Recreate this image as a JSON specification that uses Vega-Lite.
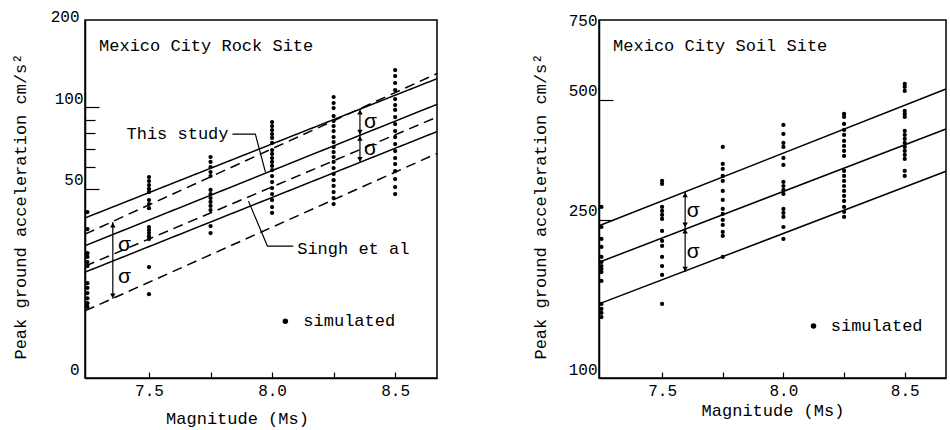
{
  "$schema": "https://vega.github.io/schema/vega-lite/v6.json",
  "background": "white",
  "padding": {"left": 10, "top": 7, "right": 5, "bottom": 2},
  "spacing": 89,
  "config": {
    "font": "Liberation Mono",
    "view": {"stroke": "black", "strokeWidth": 1.5},
    "axis": {"grid": false, "domainColor": "black", "domainWidth": 1.5, "tickColor": "black", "tickWidth": 1.2, "labelColor": "black", "titleColor": "black", "labelFont": "Liberation Mono", "titleFont": "Liberation Mono", "labelFontSize": 16, "titleFontSize": 17, "titleFontWeight": "normal"}
  },
  "datasets": {
    "rock_lines": [
      {"M": 7.24, "pga": 39.0, "line": "ts_hi", "style": "solid"}, {"M": 8.67, "pga": 127.5, "line": "ts_hi", "style": "solid"},
      {"M": 7.24, "pga": 30.8, "line": "ts_mid", "style": "solid"}, {"M": 8.67, "pga": 102.5, "line": "ts_mid", "style": "solid"},
      {"M": 7.24, "pga": 24.6, "line": "ts_lo", "style": "solid"}, {"M": 8.67, "pga": 81.3, "line": "ts_lo", "style": "solid"},
      {"M": 7.24, "pga": 34.0, "line": "sg_hi", "style": "dashed"}, {"M": 8.67, "pga": 133.2, "line": "sg_hi", "style": "dashed"},
      {"M": 7.24, "pga": 25.9, "line": "sg_mid", "style": "dashed"}, {"M": 8.67, "pga": 92.0, "line": "sg_mid", "style": "dashed"},
      {"M": 7.24, "pga": 17.7, "line": "sg_lo", "style": "dashed"}, {"M": 8.67, "pga": 67.5, "line": "sg_lo", "style": "dashed"}
    ],
    "rock_leaders": [
      {"M": 7.839, "pga": 79.6, "line": "ts", "ord": 1}, {"M": 7.932, "pga": 79.6, "line": "ts", "ord": 2}, {"M": 7.973, "pga": 57.6, "line": "ts", "ord": 3},
      {"M": 8.086, "pga": 30.7, "line": "sg", "ord": 1}, {"M": 7.981, "pga": 30.7, "line": "sg", "ord": 2}, {"M": 7.904, "pga": 45.0, "line": "sg", "ord": 3}
    ],
    "rock_pts": [
      {"M": 7.25, "pga": 41.0}, {"M": 7.25, "pga": 35.5}, {"M": 7.25, "pga": 28.9}, {"M": 7.25, "pga": 28.0}, {"M": 7.25, "pga": 26.8}, {"M": 7.25, "pga": 25.9}, {"M": 7.25, "pga": 22.4}, {"M": 7.25, "pga": 21.5}, {"M": 7.25, "pga": 20.6}, {"M": 7.25, "pga": 19.7}, {"M": 7.25, "pga": 18.9}, {"M": 7.25, "pga": 18.3},
      {"M": 7.5, "pga": 55.2}, {"M": 7.5, "pga": 53.4}, {"M": 7.5, "pga": 51.6}, {"M": 7.5, "pga": 49.9}, {"M": 7.5, "pga": 48.6}, {"M": 7.5, "pga": 45.4}, {"M": 7.5, "pga": 43.9}, {"M": 7.5, "pga": 42.4}, {"M": 7.5, "pga": 36.1}, {"M": 7.5, "pga": 35.2}, {"M": 7.5, "pga": 34.3}, {"M": 7.5, "pga": 33.4}, {"M": 7.5, "pga": 32.6}, {"M": 7.5, "pga": 25.7}, {"M": 7.5, "pga": 20.4},
      {"M": 7.75, "pga": 65.5}, {"M": 7.75, "pga": 62.8}, {"M": 7.75, "pga": 60.1}, {"M": 7.75, "pga": 57.6}, {"M": 7.75, "pga": 55.7}, {"M": 7.75, "pga": 49.5}, {"M": 7.75, "pga": 47.8}, {"M": 7.75, "pga": 46.2}, {"M": 7.75, "pga": 44.7}, {"M": 7.75, "pga": 43.2}, {"M": 7.75, "pga": 41.7}, {"M": 7.75, "pga": 36.4}, {"M": 7.75, "pga": 34.3},
      {"M": 8.0, "pga": 88.2}, {"M": 8.0, "pga": 85.2}, {"M": 8.0, "pga": 82.4}, {"M": 8.0, "pga": 79.6}, {"M": 8.0, "pga": 77.0}, {"M": 8.0, "pga": 73.8}, {"M": 8.0, "pga": 69.5}, {"M": 8.0, "pga": 67.2}, {"M": 8.0, "pga": 64.9}, {"M": 8.0, "pga": 62.8}, {"M": 8.0, "pga": 60.7}, {"M": 8.0, "pga": 58.6}, {"M": 8.0, "pga": 55.7}, {"M": 8.0, "pga": 52.9}, {"M": 8.0, "pga": 50.3}, {"M": 8.0, "pga": 47.8}, {"M": 8.0, "pga": 45.4}, {"M": 8.0, "pga": 42.8}, {"M": 8.0, "pga": 40.7},
      {"M": 8.25, "pga": 109.1}, {"M": 8.25, "pga": 103.6}, {"M": 8.25, "pga": 99.3}, {"M": 8.25, "pga": 92.8}, {"M": 8.25, "pga": 88.9}, {"M": 8.25, "pga": 85.2}, {"M": 8.25, "pga": 81.7}, {"M": 8.25, "pga": 77.6}, {"M": 8.25, "pga": 74.4}, {"M": 8.25, "pga": 71.3}, {"M": 8.25, "pga": 68.3}, {"M": 8.25, "pga": 65.5}, {"M": 8.25, "pga": 62.8}, {"M": 8.25, "pga": 59.6}, {"M": 8.25, "pga": 56.7}, {"M": 8.25, "pga": 53.8}, {"M": 8.25, "pga": 51.2}, {"M": 8.25, "pga": 48.6}, {"M": 8.25, "pga": 46.2}, {"M": 8.25, "pga": 43.9},
      {"M": 8.5, "pga": 137.2}, {"M": 8.5, "pga": 130.4}, {"M": 8.5, "pga": 122.9}, {"M": 8.5, "pga": 115.7}, {"M": 8.5, "pga": 107.2}, {"M": 8.5, "pga": 101.9}, {"M": 8.5, "pga": 97.7}, {"M": 8.5, "pga": 92.0}, {"M": 8.5, "pga": 86.7}, {"M": 8.5, "pga": 81.7}, {"M": 8.5, "pga": 77.6}, {"M": 8.5, "pga": 73.1}, {"M": 8.5, "pga": 68.9}, {"M": 8.5, "pga": 64.9}, {"M": 8.5, "pga": 61.7}, {"M": 8.5, "pga": 58.1}, {"M": 8.5, "pga": 54.3}, {"M": 8.5, "pga": 50.7}, {"M": 8.5, "pga": 47.8}
    ],
    "rock_sig": [
      {"M": 7.353, "pga": 19.6, "pga2": 37.7},
      {"M": 8.357, "pga": 62.6, "pga2": 98.4}
    ],
    "rock_heads": [
      {"M": 7.353, "pga": 36.7, "dir": "up"}, {"M": 7.353, "pga": 20.1, "dir": "down"},
      {"M": 8.357, "pga": 95.9, "dir": "up"}, {"M": 8.357, "pga": 80.9, "dir": "down"}, {"M": 8.357, "pga": 76.8, "dir": "up"}, {"M": 8.357, "pga": 64.2, "dir": "down"}
    ],
    "rock_sigma": [
      {"M": 7.40, "pga": 30.9, "text": "σ"}, {"M": 7.40, "pga": 23.6, "text": "σ"},
      {"M": 8.40, "pga": 88.0, "text": "σ"}, {"M": 8.40, "pga": 70.2, "text": "σ"}
    ],
    "rock_text": [
      {"M": 7.297, "pga": 168.3, "text": "Mexico City Rock Site"},
      {"M": 8.102, "pga": 29.9, "text": "Singh et al"},
      {"M": 8.127, "pga": 16.2, "text": "simulated"}
    ],
    "rock_text_r": [
      {"M": 7.823, "pga": 79.6, "text": "This study"}
    ],
    "rock_key": [{"M": 8.054, "pga": 16.2}],
    "soil_lines": [
      {"M": 7.24, "pga": 241.3, "line": "hi"}, {"M": 8.67, "pga": 532.0, "line": "hi"},
      {"M": 7.24, "pga": 195.3, "line": "mid"}, {"M": 8.67, "pga": 422.3, "line": "mid"},
      {"M": 7.24, "pga": 153.5, "line": "lo"}, {"M": 8.67, "pga": 330.6, "line": "lo"}
    ],
    "soil_pts": [
      {"M": 7.25, "pga": 268.9}, {"M": 7.25, "pga": 239.5}, {"M": 7.25, "pga": 223.5}, {"M": 7.25, "pga": 213.4}, {"M": 7.25, "pga": 201.4}, {"M": 7.25, "pga": 195.6}, {"M": 7.25, "pga": 191.1}, {"M": 7.25, "pga": 187.9}, {"M": 7.25, "pga": 184.6}, {"M": 7.25, "pga": 175.3}, {"M": 7.25, "pga": 153.5}, {"M": 7.25, "pga": 149.1}, {"M": 7.25, "pga": 145.7}, {"M": 7.25, "pga": 142.3},
      {"M": 7.5, "pga": 312.6}, {"M": 7.5, "pga": 307.2}, {"M": 7.5, "pga": 268.9}, {"M": 7.5, "pga": 262.8}, {"M": 7.5, "pga": 256.8}, {"M": 7.5, "pga": 250.9}, {"M": 7.5, "pga": 234.1}, {"M": 7.5, "pga": 220.9}, {"M": 7.5, "pga": 214.6}, {"M": 7.5, "pga": 201.4}, {"M": 7.5, "pga": 191.1}, {"M": 7.5, "pga": 181.5}, {"M": 7.5, "pga": 153.5},
      {"M": 7.75, "pga": 380.6}, {"M": 7.75, "pga": 344.9}, {"M": 7.75, "pga": 335.0}, {"M": 7.75, "pga": 321.7}, {"M": 7.75, "pga": 312.6}, {"M": 7.75, "pga": 295.0}, {"M": 7.75, "pga": 280.1}, {"M": 7.75, "pga": 265.8}, {"M": 7.75, "pga": 258.3}, {"M": 7.75, "pga": 249.5}, {"M": 7.75, "pga": 242.3}, {"M": 7.75, "pga": 232.7}, {"M": 7.75, "pga": 227.4}, {"M": 7.75, "pga": 201.4},
      {"M": 8.0, "pga": 432.2}, {"M": 8.0, "pga": 410.3}, {"M": 8.0, "pga": 389.4}, {"M": 8.0, "pga": 380.6}, {"M": 8.0, "pga": 357.1}, {"M": 8.0, "pga": 342.9}, {"M": 8.0, "pga": 310.8}, {"M": 8.0, "pga": 303.6}, {"M": 8.0, "pga": 296.7}, {"M": 8.0, "pga": 290.0}, {"M": 8.0, "pga": 265.8}, {"M": 8.0, "pga": 259.8}, {"M": 8.0, "pga": 253.9}, {"M": 8.0, "pga": 239.5}, {"M": 8.0, "pga": 223.5},
      {"M": 8.25, "pga": 460.6}, {"M": 8.25, "pga": 452.7}, {"M": 8.25, "pga": 434.6}, {"M": 8.25, "pga": 419.9}, {"M": 8.25, "pga": 407.9}, {"M": 8.25, "pga": 393.9}, {"M": 8.25, "pga": 382.8}, {"M": 8.25, "pga": 371.9}, {"M": 8.25, "pga": 361.3}, {"M": 8.25, "pga": 331.2}, {"M": 8.25, "pga": 321.7}, {"M": 8.25, "pga": 312.6}, {"M": 8.25, "pga": 303.6}, {"M": 8.25, "pga": 295.0}, {"M": 8.25, "pga": 286.7}, {"M": 8.25, "pga": 278.5}, {"M": 8.25, "pga": 268.9}, {"M": 8.25, "pga": 261.3}, {"M": 8.25, "pga": 253.9},
      {"M": 8.5, "pga": 547.9}, {"M": 8.5, "pga": 538.4}, {"M": 8.5, "pga": 526.1}, {"M": 8.5, "pga": 468.8}, {"M": 8.5, "pga": 460.6}, {"M": 8.5, "pga": 452.7}, {"M": 8.5, "pga": 417.5}, {"M": 8.5, "pga": 407.9}, {"M": 8.5, "pga": 398.5}, {"M": 8.5, "pga": 389.4}, {"M": 8.5, "pga": 380.6}, {"M": 8.5, "pga": 371.9}, {"M": 8.5, "pga": 363.4}, {"M": 8.5, "pga": 355.1}, {"M": 8.5, "pga": 331.2}, {"M": 8.5, "pga": 321.7}
    ],
    "soil_sig": [{"M": 7.595, "pga": 184.6, "pga2": 293.3}],
    "soil_heads": [
      {"M": 7.595, "pga": 288.3, "dir": "up"}, {"M": 7.595, "pga": 242.3, "dir": "down"},
      {"M": 7.595, "pga": 234.0, "dir": "up"}, {"M": 7.595, "pga": 187.8, "dir": "down"}
    ],
    "soil_sigma": [
      {"M": 7.628, "pga": 262.8, "text": "σ"}, {"M": 7.628, "pga": 207.3, "text": "σ"}
    ],
    "soil_text": [
      {"M": 7.298, "pga": 682.7, "text": "Mexico City Soil Site"},
      {"M": 8.195, "pga": 135.1, "text": "simulated"}
    ],
    "soil_key": [{"M": 8.124, "pga": 135.1}]
  },
  "hconcat": [
    {
      "width": 352,
      "height": 358,
      "encoding": {
        "x": {"field": "M", "type": "quantitative",
          "scale": {"domain": [7.24, 8.67], "nice": false, "zero": false},
          "axis": {"title": "Magnitude (Ms)", "values": [7.5, 7.75, 8, 8.25, 8.5],
            "labelExpr": "datum.value==7.5?'7.5':datum.value==8?'8.0':datum.value==8.5?'8.5':''",
            "tickSize": -6, "labelPadding": 10, "titlePadding": 12, "titleX": 152}},
        "y": {"field": "pga", "type": "quantitative",
          "scale": {"type": "log", "domain": [10, 210], "nice": false},
          "axis": {"title": "Peak ground acceleration  cm/s²", "values": [10, 50, 60, 70, 80, 90, 100, 200],
            "labelExpr": "datum.value==10?'0':(datum.value==50||datum.value==100||datum.value==200)?format(datum.value,'d'):''",
            "tickSize": {"condition": {"test": "datum.value==50||datum.value==100", "value": -14}, "value": -10},
            "tickOpacity": {"condition": {"test": "datum.value==10||datum.value==200", "value": 0}, "value": 1},
            "labelBaseline": "middle", "labelOffset": -9, "labelPadding": 16, "titlePadding": 21, "titleY": 186}}
      },
      "layer": [
        {"data": {"name": "rock_lines"}, "mark": {"type": "line", "color": "black", "strokeWidth": 1.5},
          "encoding": {"detail": {"field": "line"},
            "strokeDash": {"field": "style", "type": "nominal", "scale": {"domain": ["solid", "dashed"], "range": [[1, 0], [10, 6]]}, "legend": null}}},
        {"data": {"name": "rock_leaders"}, "mark": {"type": "line", "color": "black", "strokeWidth": 1.2},
          "encoding": {"detail": {"field": "line"}, "order": {"field": "ord", "type": "quantitative"}}},
        {"data": {"name": "rock_pts"}, "mark": {"type": "circle", "color": "black", "opacity": 1, "size": 18}},
        {"data": {"name": "rock_key"}, "mark": {"type": "circle", "color": "black", "opacity": 1, "size": 30}},
        {"data": {"name": "rock_sig"}, "mark": {"type": "rule", "color": "black", "strokeWidth": 1.2},
          "encoding": {"y2": {"field": "pga2"}}},
        {"data": {"name": "rock_heads"}, "mark": {"type": "point", "filled": true, "color": "black", "opacity": 1, "size": 30},
          "encoding": {"shape": {"field": "dir", "type": "nominal", "scale": {"domain": ["up", "down"], "range": ["triangle-up", "triangle-down"]}, "legend": null}}},
        {"data": {"name": "rock_sigma"}, "mark": {"type": "text", "font": "Liberation Sans", "fontSize": 21, "align": "center", "baseline": "middle", "color": "black"},
          "encoding": {"text": {"field": "text"}}},
        {"data": {"name": "rock_text"}, "mark": {"type": "text", "font": "Liberation Mono", "fontSize": 17, "align": "left", "baseline": "middle", "color": "black"},
          "encoding": {"text": {"field": "text"}}},
        {"data": {"name": "rock_text_r"}, "mark": {"type": "text", "font": "Liberation Mono", "fontSize": 17, "align": "right", "baseline": "middle", "color": "black"},
          "encoding": {"text": {"field": "text"}}}
      ]
    },
    {
      "width": 347,
      "height": 358,
      "encoding": {
        "x": {"field": "M", "type": "quantitative",
          "scale": {"domain": [7.24, 8.67], "nice": false, "zero": false},
          "axis": {"title": "Magnitude (Ms)", "values": [7.5, 7.75, 8, 8.25, 8.5],
            "labelExpr": "datum.value==7.5?'7.5':datum.value==8?'8.0':datum.value==8.5?'8.5':''",
            "tickSize": -6, "labelPadding": 10, "titlePadding": 4}},
        "y": {"field": "pga", "type": "quantitative",
          "scale": {"type": "log", "domain": [100, 793], "nice": false},
          "axis": {"title": "Peak ground acceleration  cm/s²", "values": [100, 250, 500, 750],
            "labelExpr": "format(datum.value,'d')",
            "tickSize": -14,
            "tickOpacity": {"condition": {"test": "datum.value==100||datum.value==750", "value": 0}, "value": 1},
            "labelBaseline": "middle", "labelOffset": -9, "labelPadding": 16, "titlePadding": 19, "titleY": 186}}
      },
      "layer": [
        {"data": {"name": "soil_lines"}, "mark": {"type": "line", "color": "black", "strokeWidth": 1.5},
          "encoding": {"detail": {"field": "line"}}},
        {"data": {"name": "soil_pts"}, "mark": {"type": "circle", "color": "black", "opacity": 1, "size": 18}},
        {"data": {"name": "soil_key"}, "mark": {"type": "circle", "color": "black", "opacity": 1, "size": 30}},
        {"data": {"name": "soil_sig"}, "mark": {"type": "rule", "color": "black", "strokeWidth": 1.2},
          "encoding": {"y2": {"field": "pga2"}}},
        {"data": {"name": "soil_heads"}, "mark": {"type": "point", "filled": true, "color": "black", "opacity": 1, "size": 30},
          "encoding": {"shape": {"field": "dir", "type": "nominal", "scale": {"domain": ["up", "down"], "range": ["triangle-up", "triangle-down"]}, "legend": null}}},
        {"data": {"name": "soil_sigma"}, "mark": {"type": "text", "font": "Liberation Sans", "fontSize": 21, "align": "center", "baseline": "middle", "color": "black"},
          "encoding": {"text": {"field": "text"}}},
        {"data": {"name": "soil_text"}, "mark": {"type": "text", "font": "Liberation Mono", "fontSize": 17, "align": "left", "baseline": "middle", "color": "black"},
          "encoding": {"text": {"field": "text"}}}
      ]
    }
  ]
}
